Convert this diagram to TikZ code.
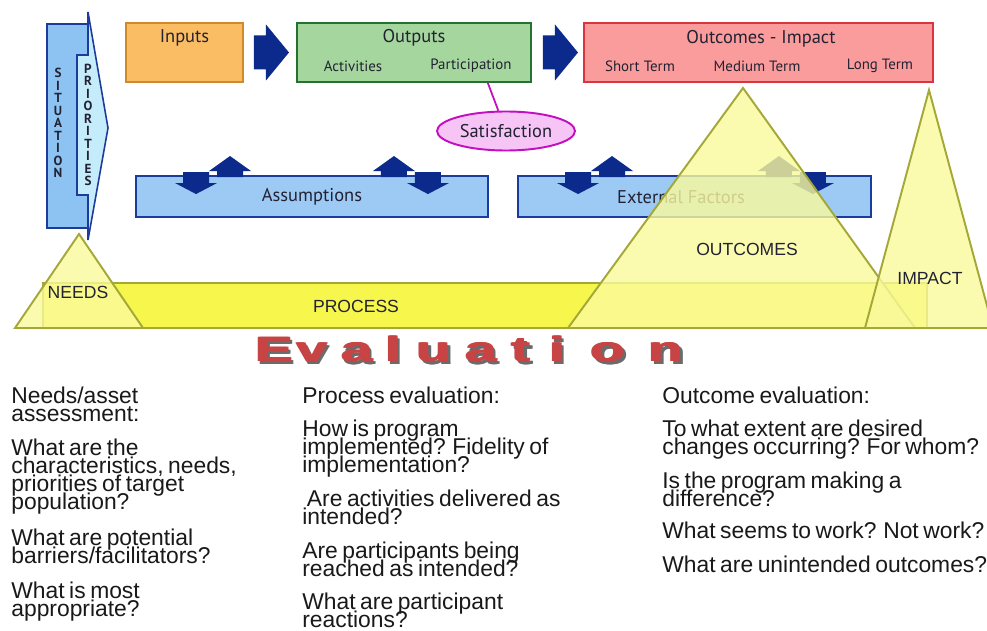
\documentclass[tikz,border=0pt]{standalone}
\usepackage{fontspec}
\setmainfont{Liberation Sans}
\newfontfamily\boxfont{PT Sans}
\newfontfamily\evalfont[FakeStretch=1.6]{Liberation Sans}
\usetikzlibrary{fit,calc,shapes.geometric}

\newcommand\tightlines{\lineskiplimit=-20pt\lineskip=0pt\relax}
\newcommand\tightwords{\spaceskip=0.2em\relax}

\definecolor{arrowblue}{HTML}{0B2A8C}
\definecolor{sitline}{HTML}{1D3C99}
\definecolor{sitfill}{HTML}{8DC3F3}
\definecolor{prifill}{HTML}{C5ECFB}
\definecolor{inputsline}{HTML}{CF8A2C}
\definecolor{inputsfill}{HTML}{FBBD63}
\definecolor{outputsline}{HTML}{24722F}
\definecolor{outputsfill}{HTML}{A5D69E}
\definecolor{outcomesline}{HTML}{D83540}
\definecolor{outcomesfill}{HTML}{FB9C9C}
\definecolor{assumline}{HTML}{1A3D9D}
\definecolor{assumfill}{HTML}{9CCAF5}
\definecolor{satline}{HTML}{C10FC1}
\definecolor{satfill}{HTML}{F7C5F5}
\definecolor{stageline}{HTML}{A4A836}
\definecolor{stagefill}{HTML}{FAFA9C}
\definecolor{procfill}{HTML}{F6F64C}
\definecolor{evalred}{HTML}{C84444}
\definecolor{evalgray}{HTML}{6B6B6B}
\definecolor{labeltext}{HTML}{222233}

\tikzset{
x=0.02cm, y=-0.02cm,
every node/.style={inner sep=0pt},
logicbox/.style={rectangle, line width=1.1pt},
boxtitle/.style={font=\boxfont\fontsize{10.5}{12}\selectfont, text=labeltext},
boxsub/.style={font=\boxfont\fontsize{8.5}{10}\selectfont, text=labeltext},
contexttext/.style={font=\boxfont\fontsize{10.5}{12}\selectfont, text=labeltext},
vertletters/.style={align=center, text=labeltext, font=\boxfont\bfseries\fontsize{7.5}{7.1}\selectfont\tightlines},
stage/.style={draw=stageline, line width=1.1pt, fill=stagefill, fill opacity=0.8},
stagetext/.style={font=\fontsize{10}{12}\selectfont, text=labeltext},
evalletter/.style={anchor=base, font=\evalfont\bfseries\fontsize{20}{24}\selectfont, text=evalred},
evalshadow/.style={evalletter, text=evalgray},
question/.style={anchor=north west, align=left, text=black!90, font=\fontsize{13}{10.25}\selectfont\tightlines\tightwords},
pics/flowarrow/.style={code={
  \fill[arrowblue] (0,-17) -- (12,-17) -- (12,-28) -- (35,0) -- (12,28) -- (12,17) -- (0,17) -- cycle;
}},
pics/influence/.style={code={
  \fill[arrowblue] (4,2) -- (4,-4) -- (-4,-4) -- (17,-19) -- (38,-4) -- (30,-4) -- (30,2) -- cycle;
  \fill[arrowblue] (-30,-3) -- (-30,8) -- (-38,8) -- (-17,19) -- (4,8) -- (-4,8) -- (-4,-3) -- cycle;
}},
}

\begin{document}
\begin{tikzpicture}
    \useasboundingbox[fill=white] (0,0) rectangle (987,631);

    % situation and priorities
    \node[logicbox, draw=sitline, fill=sitfill, fit={(47,24) (89,228)}] (situation) {};
    \draw[line width=0.9pt, draw=sitline, fill=prifill] (77,55) -- (88,55) -- (88,12) -- (108,128) -- (88,240) -- (88,195) -- (77,195) -- cycle;
    \node[vertletters] (situationtext) at (58,123) {S\\I\\T\\U\\A\\T\\I\\O\\N};
    \node[vertletters] (prioritiestext) at (88,125) {P\\R\\I\\O\\R\\I\\T\\I\\E\\S};

    % logic model boxes
    \node[logicbox, draw=inputsline, fill=inputsfill, fit={(126,23) (243,82)}] (inputs) {};
    \node[logicbox, draw=outputsline, fill=outputsfill, fit={(297,23) (531,82)}] (outputs) {};
    \node[logicbox, draw=outcomesline, fill=outcomesfill, fit={(584,23) (933,82)}] (outcomes) {};
    \node[boxtitle] (inputstitle) at ($(inputs.north)+(0,16)$) {Inputs};
    \node[boxtitle] (outputstitle) at ($(outputs.north)+(0,16)$) {Outputs};
    \node[boxtitle] (outcomestitle) at (761,39) {Outcomes - Impact};
    \node[boxsub] (activities) at (353,66) {Activities};
    \node[boxsub] (participation) at (471,66) {Participation};
    \node[boxsub] (shortterm) at (640,66) {Short Term};
    \node[boxsub] (mediumterm) at (757,66) {Medium Term};
    \node[boxsub] (longterm) at (880,66) {Long Term};
    \pic at ($(inputs.east)+(10,0)$) {flowarrow};
    \pic at ($(outputs.east)+(11,0)$) {flowarrow};

    % satisfaction
    \node[ellipse, draw=satline, fill=satfill, line width=1.1pt, minimum width=2.76cm, minimum height=0.78cm, boxtitle] (satisf) at (506,131) {Satisfaction};
    \coordinate (partfoot) at ($(outputs.south west)!0.813!(outputs.south east)$);
    \draw[satline, line width=1pt] (partfoot) -- (satisf);

    % context
    \node[logicbox, draw=assumline, fill=assumfill, fit={(136,176) (488,217)}] (assump) {};
    \node[logicbox, draw=assumline, fill=assumfill, fit={(518,176) (871,217)}] (extfac) {};
    \node[contexttext] (assumtext) at (312,197) {Assumptions};
    \node[contexttext] (extfactext) at (681,197) {External Factors};
    \pic at ($(assump.north west)+(78,0)$) {influence};
    \pic[xscale=-1] at ($(assump.north east)+(-78,0)$) {influence};
    \pic at ($(extfac.north west)+(78,0)$) {influence};
    \pic[xscale=-1] at ($(extfac.north east)+(-76,0)$) {influence};

    % stages
    \draw[draw=stageline, line width=1.1pt, fill=procfill] (43,283) rectangle (927,328);
    \filldraw[stage] (79,234) -- (143,328) -- (15,328) -- cycle;
    \filldraw[stage] (743,88) -- (915,328) -- (568,328) -- cycle;
    \filldraw[stage] (929,90) -- (993,328) -- (865,328) -- cycle;
    \node[stagetext] (needs) at (78,292) {NEEDS};
    \node[stagetext] (process) at (356,306) {PROCESS};
    \node[stagetext] (outcomeslabel) at (747,249) {OUTCOMES};
    \node[stagetext] (impact) at (930,278) {IMPACT};

    % evaluation, heavy letters by overprinting
    \foreach \ch/\xx [count=\k] in {E/274, v/312, a/357, l/393, u/434, a/481, t/521, i/557, o/608, n/666} {
        \foreach \dx in {-1,0,1} {
            \node[evalshadow] (evs\k) at (\xx+\dx+2.5,365) {\ch};
        }
        \foreach \dx in {-1,0,1} {
            \node[evalletter] (ev\k) at (\xx+\dx,362) {\ch};
        }
    }

    % questions
    \node[question] (needsq1) at (11,387) {Needs/asset\\assessment:};
    \node[question] (needsq2) at (11,439) {What are the\\characteristics, needs,\\priorities  of target\\population?};
    \node[question] (needsq3) at (11,529) {What are potential\\barriers/facilitators?};
    \node[question] (needsq4) at (11,582) {What is most\\appropriate?};

    \node[question] (procq1) at (302,387) {Process evaluation:};
    \node[question] (procq2) at (302,420) {How is program\\implemented? Fidelity of\\implementation?};
    \node[question] (procq3) at (302,490) {\ Are activities delivered as\\intended?};
    \node[question] (procq4) at (302,542) {Are participants being\\reached as intended?};
    \node[question] (procq5) at (302,593) {What are participant\\reactions?};

    \node[question] (outq1) at (662,387) {Outcome evaluation:};
    \node[question] (outq2) at (662,420) {To what extent are desired\\changes occurring?  For whom?};
    \node[question] (outq3) at (662,472) {Is the program making a\\difference?};
    \node[question] (outq4) at (662,522) {What seems to work? Not work?};
    \node[question] (outq5) at (662,556) {What are unintended outcomes?};
\end{tikzpicture}
\end{document}
